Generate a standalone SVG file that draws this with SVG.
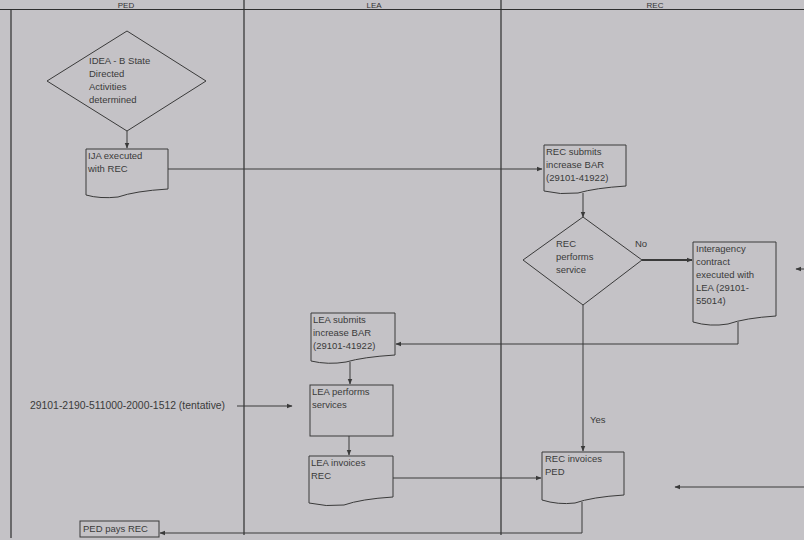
<svg xmlns="http://www.w3.org/2000/svg" width="804" height="540" viewBox="0 0 804 540">
<defs>
<style>
.bg{fill:#c4c2c6}
.lane{stroke:#2e2e2e;stroke-width:1.2;fill:none}
.shape{fill:none;stroke:#3a3a3a;stroke-width:1}
.conn{fill:none;stroke:#3a3a3a;stroke-width:1}
.thick{stroke-width:2}
text{font-family:"Liberation Sans",Arial,sans-serif;font-size:9.5px;fill:#3a3a3a}
.hdr{font-size:8px;fill:#333}
.acct{font-size:10.4px}
</style>
<marker id="ah" viewBox="0 0 10 10" refX="9" refY="5" markerWidth="6" markerHeight="6" orient="auto" markerUnits="userSpaceOnUse">
<path d="M0,1 L10,5 L0,9 Z" fill="#3a3a3a"/>
</marker>
</defs>
<rect class="bg" x="0" y="0" width="804" height="540"/>

<g id="lanes">
<line class="lane" x1="0" y1="9.5" x2="804" y2="9.5"/>
<line class="lane" x1="11" y1="9" x2="11" y2="538"/>
<line class="lane" x1="244" y1="0" x2="244" y2="535"/>
<line class="lane" x1="501" y1="0" x2="501" y2="535"/>
<text class="hdr" x="126" y="8" text-anchor="middle">PED</text>
<text class="hdr" x="374" y="8" text-anchor="middle">LEA</text>
<text class="hdr" x="655" y="8" text-anchor="middle">REC</text>
</g>

<g id="connectors">
<path class="conn" d="M127,131 V148" marker-end="url(#ah)"/>
<path class="conn" d="M168,169 H542" marker-end="url(#ah)"/>
<path class="conn" d="M583,193 V217" marker-end="url(#ah)"/>
<path class="conn thick" d="M642,260 H692" marker-end="url(#ah)"/>
<path class="conn" d="M738,322 V344 H396" marker-end="url(#ah)"/>
<path class="conn" d="M350,362 V384" marker-end="url(#ah)"/>
<path class="conn" d="M349,436 V455" marker-end="url(#ah)"/>
<path class="conn" d="M237,406 H292" marker-end="url(#ah)"/>
<path class="conn" d="M393,478 H541" marker-end="url(#ah)"/>
<path class="conn" d="M583,305 V451" marker-end="url(#ah)"/>
<path class="conn" d="M582,502 V533 H160" marker-end="url(#ah)"/>
<path class="conn" d="M804,269 H796" marker-end="url(#ah)"/>
<path class="conn" d="M804,487 H675" marker-end="url(#ah)"/>
<text x="635" y="247">No</text>
<text x="590" y="423">Yes</text>
</g>

<g id="n-idea">
<path class="shape" d="M127,31 L206,81 L127,131 L47,81 Z"/>
<text x="89" y="64">IDEA - B State</text>
<text x="89" y="77">Directed</text>
<text x="89" y="90">Activities</text>
<text x="89" y="103">determined</text>
</g>

<g id="n-ija">
<path class="shape" d="M86,149 H168 V189 Q135,191 118,197 Q100,199 86,195 Z"/>
<text x="88" y="159">IJA executed</text>
<text x="88" y="172">with REC</text>
</g>

<g id="n-rec-submits">
<path class="shape" d="M544,145 H626 V186 Q595,188 578,193 Q560,195 544,191 Z"/>
<text x="546" y="155">REC submits</text>
<text x="546" y="168">increase BAR</text>
<text x="546" y="181">(29101-41922)</text>
</g>

<g id="n-rec-performs">
<path class="shape" d="M583,217 L642,260 L583,305 L523,260 Z"/>
<text x="556" y="247">REC</text>
<text x="556" y="260">performs</text>
<text x="556" y="273">service</text>
</g>

<g id="n-interagency">
<path class="shape" d="M693,242 H776 V316 Q745,318 728,324 Q710,327 693,322 Z"/>
<text x="696" y="252">Interagency</text>
<text x="696" y="265">contract</text>
<text x="696" y="278">executed with</text>
<text x="696" y="291">LEA (29101-</text>
<text x="696" y="304">55014)</text>
</g>

<g id="n-lea-submits">
<path class="shape" d="M311,313 H395 V355 Q363,357 346,362 Q328,365 311,361 Z"/>
<text x="313" y="323">LEA submits</text>
<text x="313" y="336">increase BAR</text>
<text x="313" y="349">(29101-41922)</text>
</g>

<g id="n-lea-performs">
<rect class="shape" x="310" y="385" width="83" height="51"/>
<text x="312" y="395">LEA performs</text>
<text x="312" y="408">services</text>
</g>

<g id="n-lea-invoices">
<path class="shape" d="M309,456 H393 V497 Q361,499 344,505 Q326,507 309,503 Z"/>
<text x="311" y="466">LEA invoices</text>
<text x="311" y="479">REC</text>
</g>

<g id="n-account">
<text class="acct" x="30" y="409">29101-2190-511000-2000-1512 (tentative)</text>
</g>

<g id="n-rec-invoices">
<path class="shape" d="M542,452 H624 V495 Q592,497 575,503 Q558,505 542,500 Z"/>
<text x="545" y="462">REC invoices</text>
<text x="545" y="475">PED</text>
</g>

<g id="n-ped-pays">
<rect class="shape" x="80" y="521" width="79" height="16"/>
<text x="83" y="532">PED pays REC</text>
</g>
</svg>
